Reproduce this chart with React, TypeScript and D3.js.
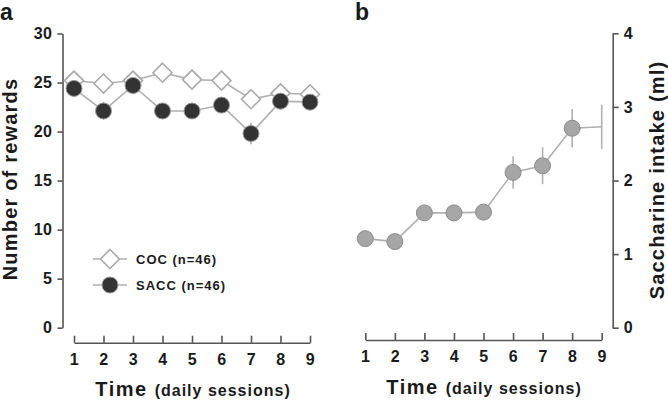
import React, { useRef, useEffect } from 'react';
import * as d3 from 'd3';

// sessions on the x axis (both panels)
const sessions = [1, 2, 3, 4, 5, 6, 7, 8, 9];

// panel a: number of rewards
const cocMean = [25.2, 24.9, 25.2, 26.0, 25.3, 25.2, 23.3, 23.9, 23.8];
const cocErr = [0.8, 0.7, 0.8, 0.8, 0.7, 0.7, 0.9, 0.7, 0.7];
const saccMean = [24.4, 22.1, 24.7, 22.1, 22.1, 22.7, 19.8, 23.1, 23.0];
const saccErr = [0.8, 0.9, 0.8, 0.8, 0.7, 0.8, 1.1, 0.8, 0.8];
const rewardTicks = [0, 5, 10, 15, 20, 25, 30];
const legendLabels = ['COC (n=46)', 'SACC (n=46)'];

// panel b: saccharine intake (ml); last session has no marker in the figure
const intakeMean = [1.21, 1.17, 1.56, 1.56, 1.57, 2.11, 2.2, 2.71, 2.73];
const intakeErr = [0.08, 0.07, 0.1, 0.1, 0.1, 0.22, 0.25, 0.26, 0.3];
const intakeMarker = [true, true, true, true, true, true, true, true, false];
const intakeTicks = [0, 1, 2, 3, 4];

const FONT = "'Liberation Sans', Arial, sans-serif";
const AXIS = '#555';
const LINE = '#b0b0b0';
const INK = '#1a1a1a';

const App = () => {
  const svgRef = useRef<SVGSVGElement>(null);

  useEffect(() => {
    const svg = d3.select(svgRef.current);
    svg.selectAll('*').remove();

    const xA = d3.scaleLinear().domain([1, 9]).range([74, 310]);
    const yA = d3.scaleLinear().domain([0, 30]).range([327.7, 33.5]);
    const xB = d3.scaleLinear().domain([1, 9]).range([365.3, 601.7]);
    const yB = d3.scaleLinear().domain([0, 4]).range([327.7, 33.3]);

    const styleAxis = (g: any, size: number) => {
      g.selectAll('path, line').attr('stroke', AXIS).attr('stroke-width', 1.6);
      g.selectAll('text')
        .attr('fill', INK)
        .style('font-family', FONT)
        .style('font-weight', 'bold')
        .style('font-size', size + 'px')
        .style('letter-spacing', '0.5px');
    };

    // ---- panel a ----
    const yAxisA = svg.append('g')
      .attr('transform', 'translate(62.5,0)')
      .call(d3.axisLeft(yA).tickValues(rewardTicks).tickSizeInner(5).tickSizeOuter(0).tickPadding(5));
    styleAxis(yAxisA, 16);

    const xAxisA = svg.append('g')
      .attr('transform', 'translate(0,342.7)')
      .call(d3.axisBottom(xA).tickValues(sessions).tickFormat(d3.format('d')).tickSizeInner(-7).tickSizeOuter(0).tickPadding(11));
    styleAxis(xAxisA, 16);

    const lineA = d3.line<number>().x((_, i) => xA(sessions[i])).y(d => yA(d));
    svg.append('path').attr('d', lineA(cocMean)).attr('fill', 'none').attr('stroke', LINE).attr('stroke-width', 1.6);
    svg.append('path').attr('d', lineA(saccMean)).attr('fill', 'none').attr('stroke', LINE).attr('stroke-width', 1.6);

    const errBars = (mean: number[], err: number[], x: any, y: any) => {
      svg.append('g').selectAll('line')
        .data(mean)
        .enter()
        .append('line')
        .attr('x1', (_, i) => x(sessions[i]))
        .attr('x2', (_, i) => x(sessions[i]))
        .attr('y1', (d, i) => y(d - err[i]))
        .attr('y2', (d, i) => y(d + err[i]))
        .attr('stroke', LINE)
        .attr('stroke-width', 1.6);
    };
    errBars(cocMean, cocErr, xA, yA);
    errBars(saccMean, saccErr, xA, yA);

    const diamond = (cx: number, cy: number, r: number) =>
      `M${cx},${cy - r}L${cx + r},${cy}L${cx},${cy + r}L${cx - r},${cy}Z`;

    svg.append('g').selectAll('path')
      .data(cocMean)
      .enter()
      .append('path')
      .attr('d', (d, i) => diamond(xA(sessions[i]), yA(d), 9.5))
      .attr('fill', '#fff')
      .attr('stroke', '#aaa')
      .attr('stroke-width', 1.6);

    svg.append('g').selectAll('circle')
      .data(saccMean)
      .enter()
      .append('circle')
      .attr('cx', (_, i) => xA(sessions[i]))
      .attr('cy', d => yA(d))
      .attr('r', 8)
      .attr('fill', '#333')
      .attr('stroke', '#999')
      .attr('stroke-width', 1);

    // legend
    const legend = svg.append('g').attr('transform', 'translate(0,259)');
    legendLabels.forEach((label, i) => {
      const ly = i * 26;
      legend.append('line').attr('x1', 93).attr('x2', 127).attr('y1', ly).attr('y2', ly)
        .attr('stroke', LINE).attr('stroke-width', 1.6);
      if (i === 0) {
        legend.append('path').attr('d', diamond(110, ly, 9.5))
          .attr('fill', '#fff').attr('stroke', '#aaa').attr('stroke-width', 1.6);
      } else {
        legend.append('circle').attr('cx', 110).attr('cy', ly).attr('r', 8)
          .attr('fill', '#333').attr('stroke', '#999');
      }
      legend.append('text')
        .attr('x', 136).attr('y', ly).attr('dy', '0.35em')
        .style('font-family', FONT).style('font-weight', 'bold').style('font-size', '13px')
        .style('letter-spacing', '1px').attr('fill', INK)
        .text(label);
    });

    // ---- panel b ----
    const yAxisB = svg.append('g')
      .attr('transform', 'translate(612.7,0)')
      .call(d3.axisRight(yB).tickValues(intakeTicks).tickFormat(d3.format('d')).tickSizeInner(6).tickSizeOuter(0).tickPadding(5));
    styleAxis(yAxisB, 16);

    const xAxisB = svg.append('g')
      .attr('transform', 'translate(0,340)')
      .call(d3.axisBottom(xB).tickValues(sessions).tickFormat(d3.format('d')).tickSizeInner(-7).tickSizeOuter(0).tickPadding(11));
    styleAxis(xAxisB, 16);

    const lineB = d3.line<number>().x((_, i) => xB(sessions[i])).y(d => yB(d));
    svg.append('path').attr('d', lineB(intakeMean)).attr('fill', 'none').attr('stroke', LINE).attr('stroke-width', 1.6);
    errBars(intakeMean, intakeErr, xB, yB);

    svg.append('g').selectAll('circle')
      .data(intakeMean.filter((_, i) => intakeMarker[i]))
      .enter()
      .append('circle')
      .attr('cx', (_, i) => xB(sessions[i]))
      .attr('cy', d => yB(d))
      .attr('r', 8)
      .attr('fill', '#a6a6a6')
      .attr('stroke', '#8c8c8c')
      .attr('stroke-width', 1);

    // ---- labels ----
    const label = (x: number, y: number, size: number, text: string, rotate = 0, spacing = 0) =>
      svg.append('text')
        .attr('transform', `translate(${x},${y}) rotate(${rotate})`)
        .attr('text-anchor', rotate ? 'middle' : 'start')
        .style('font-family', FONT).style('font-weight', 'bold')
        .style('font-size', size + 'px').style('letter-spacing', spacing + 'px')
        .attr('fill', INK)
        .text(text);

    label(0, 20, 23, 'a');
    label(355, 20, 23, 'b');
    label(17, 179, 20, 'Number of rewards', -90, 1.2);
    label(664, 180, 20, 'Saccharine intake (ml)', -90, 1.2);

    const timeTitle = (cx: number, y: number) => {
      const t = svg.append('text')
        .attr('x', cx).attr('y', y).attr('text-anchor', 'middle')
        .style('font-family', FONT).style('font-weight', 'bold').attr('fill', INK);
      t.append('tspan').style('font-size', '20px').style('letter-spacing', '1.5px').text('Time ');
      t.append('tspan').style('font-size', '16px').style('letter-spacing', '1px').text('(daily sessions)');
    };
    timeTitle(193, 396);
    timeTitle(484, 394);
  }, []);

  return (
    <svg
      ref={svgRef}
      width={668}
      height={401}
      style={{ position: 'absolute', left: 0, top: 0, background: '#fff' }}
    />
  );
};

export default App;
